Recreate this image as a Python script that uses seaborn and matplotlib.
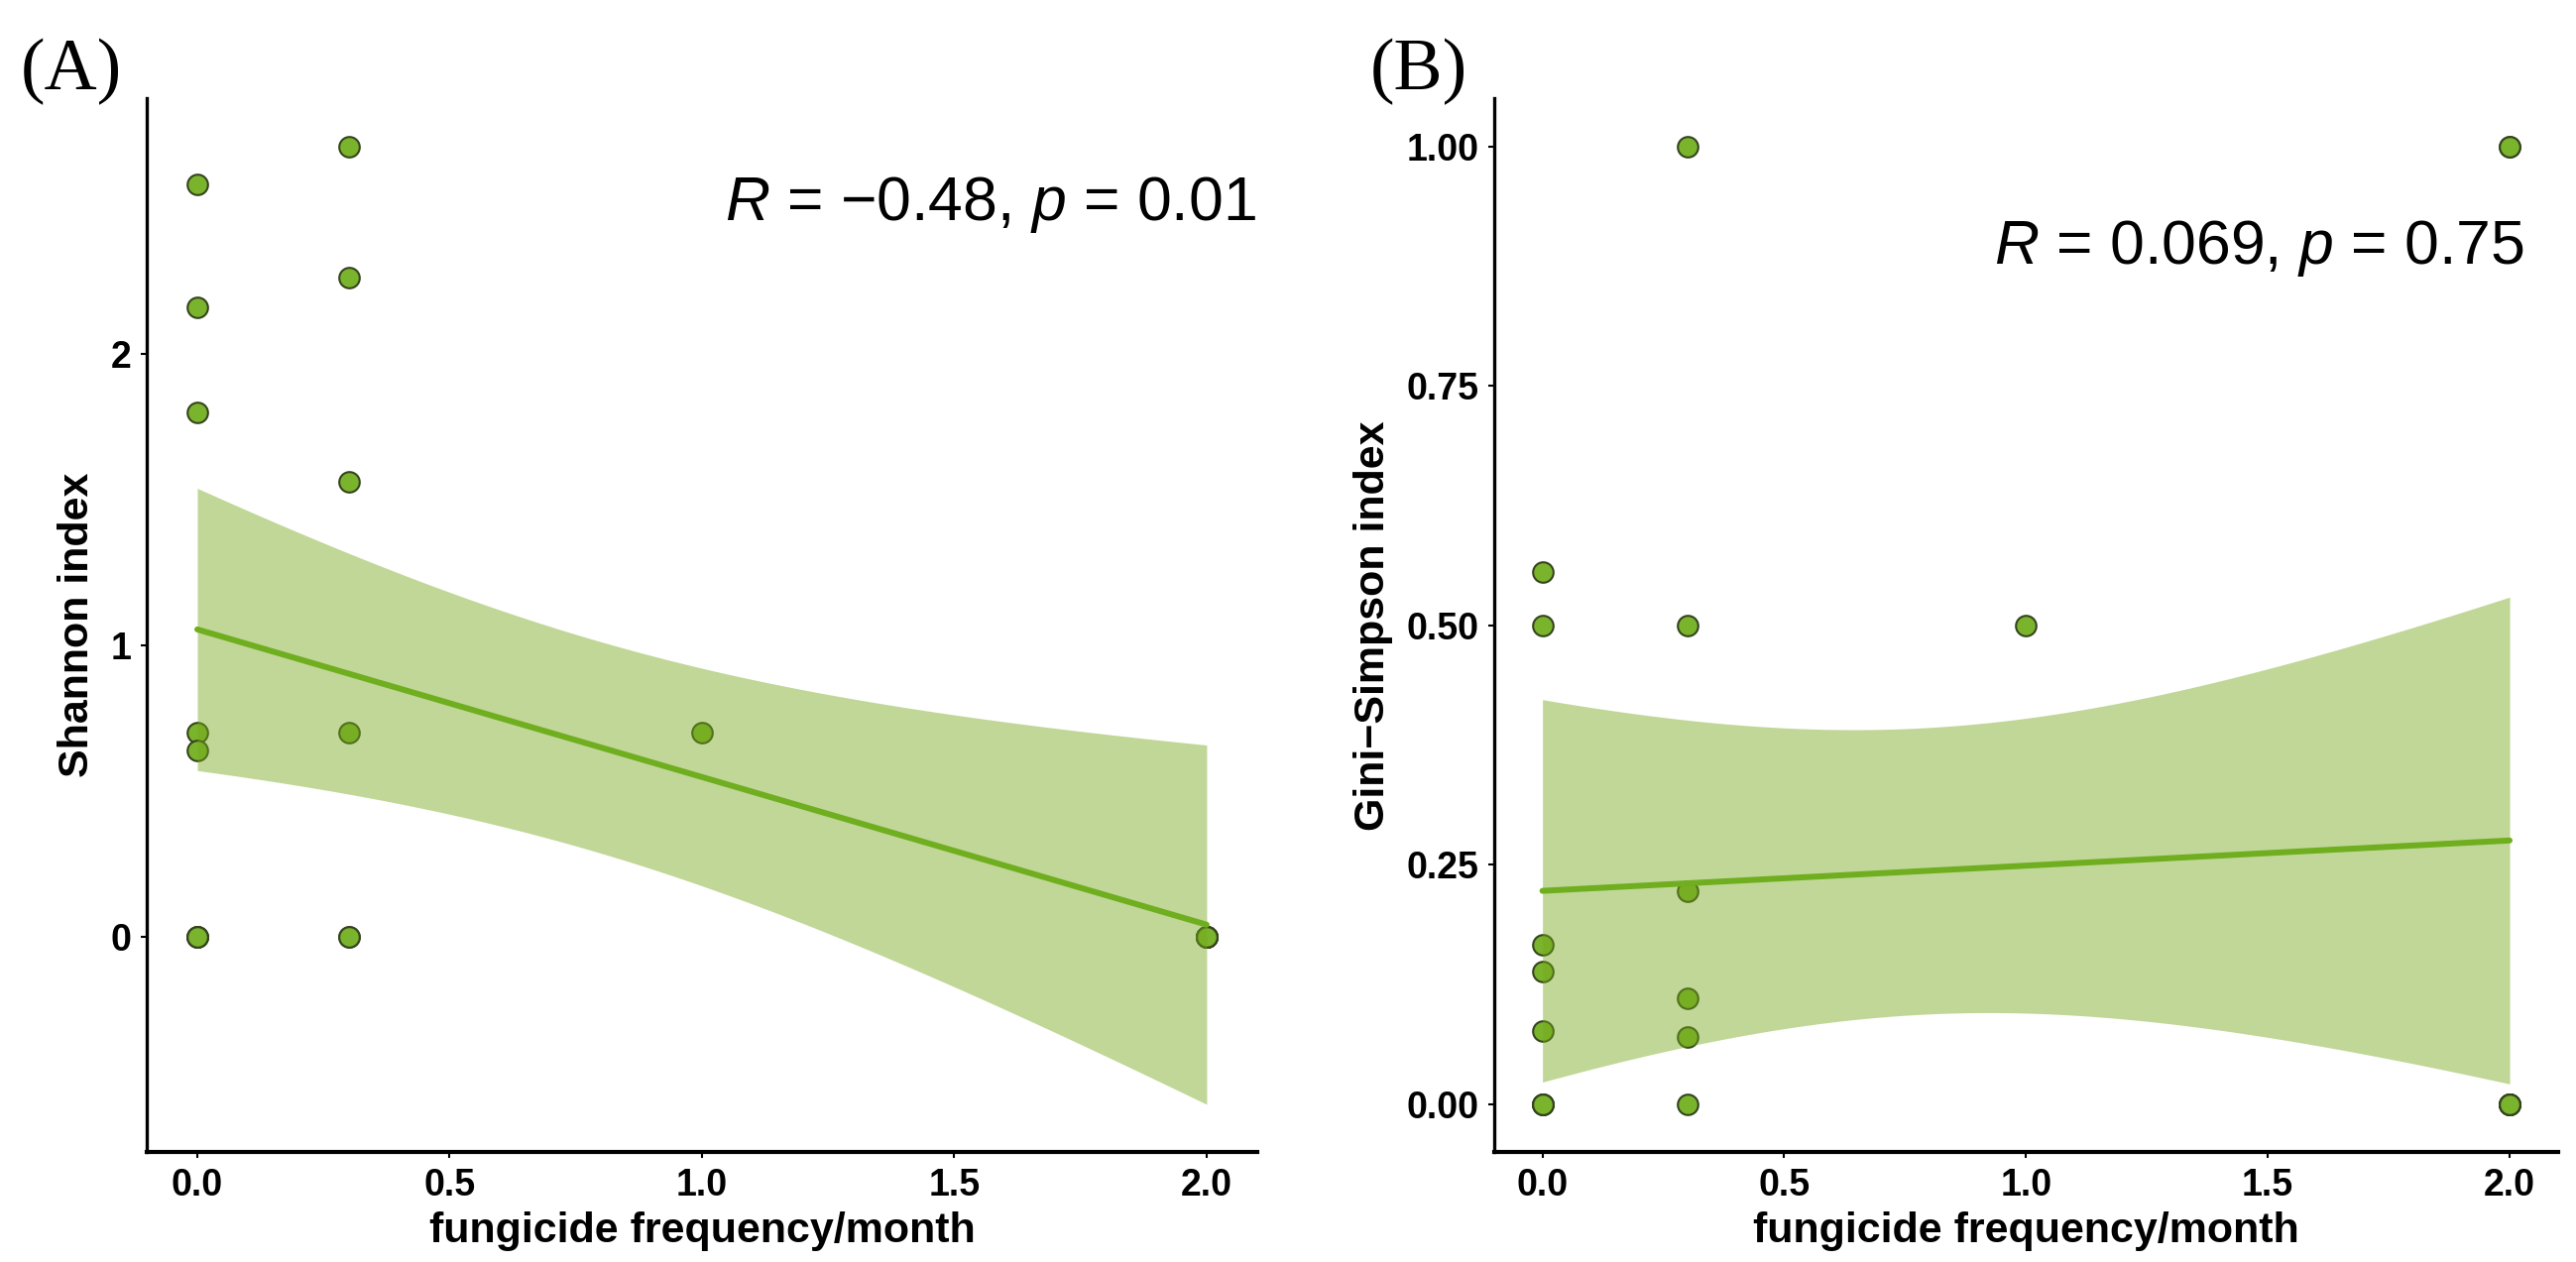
import numpy as np
import pandas as pd
import matplotlib
matplotlib.use("Agg")
import matplotlib.pyplot as plt
import seaborn as sns
from matplotlib.ticker import FormatStrFormatter

# one entry per sample (several samples overlap on the plot)
freq = [0] * 9 + [0.3] * 6 + [1.0] + [2.0] * 8
shannon = [2.58, 2.16, 1.80, 0.70, 0.64, 0, 0, 0, 0,
           2.71, 2.26, 1.56, 0.70, 0, 0,
           0.70,
           0, 0, 0, 0, 0, 0, 0, 0]
gini_simpson = [0.556, 0.50, 0.167, 0.139, 0.077, 0, 0, 0, 0,
                1.00, 0.50, 0.222, 0.111, 0.07, 0,
                0.50,
                1.00, 1.00, 0, 0, 0, 0, 0, 0]

panel_tags = ["(A)", "(B)"]
y_labels = ["Shannon index", "Gini\u2212Simpson index"]
stat_labels = ["$R$ = \u22120.48, $p$ = 0.01", "$R$ = 0.069, $p$ = 0.75"]
x_ticks = [0.0, 0.5, 1.0, 1.5, 2.0]
y_ticks = [[0, 1, 2], [0, 0.25, 0.50, 0.75, 1.00]]

T_CRIT = 2.074  # t quantile 0.975, df = 22 (lm 95% band like ggplot)

point_fill = "#7ab42c"
point_edge = "#35441e"
line_col = "#6fae1f"
band_col = "#75a81a"

df = pd.DataFrame({"freq": freq, "shannon": shannon, "gini": gini_simpson})

sns.set_theme(style="ticks")
plt.rcParams["font.family"] = ["Liberation Sans", "DejaVu Sans"]
plt.rcParams["mathtext.fontset"] = "custom"
plt.rcParams["mathtext.it"] = "Liberation Sans:italic"
plt.rcParams["mathtext.rm"] = "Liberation Sans"
plt.rcParams["text.color"] = "black"
plt.rcParams["axes.labelcolor"] = "black"


def lm_band(x, y, grid):
    x = np.asarray(x, float)
    y = np.asarray(y, float)
    n = len(x)
    slope, icept = np.polyfit(x, y, 1)
    resid = y - (icept + slope * x)
    s = np.sqrt(np.sum(resid ** 2) / (n - 2))
    sxx = np.sum((x - x.mean()) ** 2)
    se = s * np.sqrt(1 / n + (grid - x.mean()) ** 2 / sxx)
    fit = icept + slope * grid
    return fit - T_CRIT * se, fit + T_CRIT * se


fig = plt.figure(figsize=(25.98, 12.73), dpi=100)
ax_a = fig.add_axes([0.057, 0.087, 0.431, 0.835])
ax_b = fig.add_axes([0.580, 0.087, 0.413, 0.835])

cols = ["shannon", "gini"]
text_pos = [(0.999, 0.885), (0.968, 0.843)]
tag_x = [0.008, 0.532]
fmt_y = ["%g", "%.2f"]

for i, ax in enumerate([ax_a, ax_b]):
    col = cols[i]
    sns.regplot(data=df, x="freq", y=col, ax=ax, ci=None, truncate=True,
                scatter_kws=dict(s=220, color=point_fill, edgecolor=point_edge,
                                 linewidths=1.5, alpha=1, zorder=1),
                line_kws=dict(color=line_col, lw=4.3, zorder=3))
    grid = np.linspace(df["freq"].min(), df["freq"].max(), 120)
    lo, hi = lm_band(df["freq"], df[col], grid)
    ax.fill_between(grid, lo, hi, color=band_col, alpha=0.45, lw=0, zorder=2)

    ymin = min(lo.min(), df[col].min())
    ymax = max(hi.max(), df[col].max())
    pad = 0.05 * (ymax - ymin)
    ax.set_ylim(ymin - pad, ymax + pad)
    ax.set_xlim(-0.1, 2.1)

    ax.set_xticks(x_ticks)
    ax.set_yticks(y_ticks[i])
    ax.xaxis.set_major_formatter(FormatStrFormatter("%.1f"))
    ax.yaxis.set_major_formatter(FormatStrFormatter(fmt_y[i]))
    ax.tick_params(direction="out", length=4, width=1.5, pad=7,
                   labelsize=27, colors="black")
    for lab in ax.get_xticklabels() + ax.get_yticklabels():
        lab.set_fontweight("bold")

    sns.despine(ax=ax)
    ax.spines["left"].set_linewidth(2.4)
    ax.spines["bottom"].set_linewidth(3.0)
    for side in ["left", "bottom"]:
        ax.spines[side].set_color("black")

    ax.set_xlabel("fungicide frequency/month", fontsize=31, fontweight="bold",
                  labelpad=6, color="black")
    ax.set_ylabel(y_labels[i], fontsize=31, fontweight="bold", labelpad=10,
                  color="black")

    ax.text(text_pos[i][0], text_pos[i][1], stat_labels[i], transform=ax.transAxes,
            ha="right", va="baseline", fontsize=45, color="black")
    fig.text(tag_x[i], 0.970, panel_tags[i], family=["Liberation Serif", "DejaVu Serif"],
             fontsize=53, va="top", ha="left", color="black")

fig.savefig("out.png", dpi=100, facecolor="white")
